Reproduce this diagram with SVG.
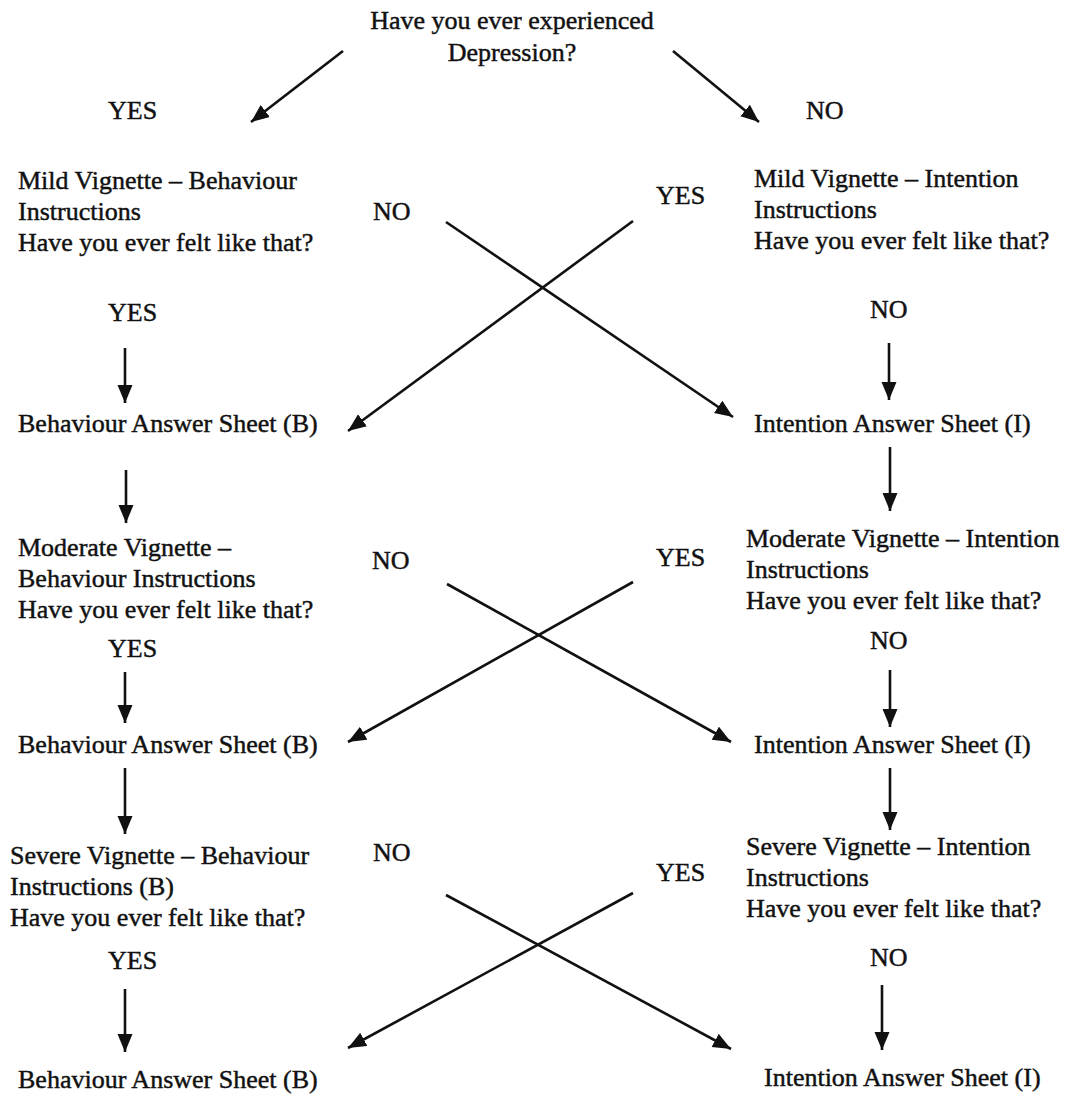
<svg xmlns="http://www.w3.org/2000/svg" width="1072" height="1095" viewBox="0 0 1072 1095">
<style>
text{font-family:"Liberation Serif","Times New Roman",serif;font-size:26px;fill:#111;stroke:#111;stroke-width:0.45}
.c{text-anchor:middle}
.ln{stroke:#111;stroke-width:2.6;fill:none;marker-end:url(#ah)}
</style>
<defs>
<marker id="ah" markerUnits="userSpaceOnUse" markerWidth="19" markerHeight="16" refX="18" refY="7.5" orient="auto"><path d="M0,0 L18,7.5 L0,15 z" fill="#111"/></marker>
</defs>
<rect width="1072" height="1095" fill="#fff"/>
<g id="q0"><text class="c" x="512" y="29">Have you ever experienced</text><text class="c" x="512" y="61">Depression?</text></g>
<g id="lbl-yes0"><text x="108" y="119">YES</text></g>
<g id="lbl-no0"><text x="806" y="119">NO</text></g>
<g id="mildB"><text x="18" y="189">Mild Vignette – Behaviour</text><text x="18" y="220">Instructions</text><text x="18" y="251">Have you ever felt like that?</text></g>
<g id="mildI"><text x="754" y="187">Mild Vignette – Intention</text><text x="754" y="218">Instructions</text><text x="754" y="249">Have you ever felt like that?</text></g>
<g id="lbl-no1"><text x="373" y="220">NO</text></g>
<g id="lbl-yes1"><text x="656" y="204">YES</text></g>
<g id="lbl-yes2"><text x="108" y="321">YES</text></g>
<g id="lbl-no2"><text x="870" y="318">NO</text></g>
<g id="sheetB1"><text x="18" y="432">Behaviour Answer Sheet (B)</text></g>
<g id="sheetI1"><text x="754" y="432">Intention Answer Sheet (I)</text></g>
<g id="modB"><text x="18" y="556">Moderate Vignette –</text><text x="18" y="587">Behaviour Instructions</text><text x="18" y="618">Have you ever felt like that?</text></g>
<g id="modI"><text x="746" y="547">Moderate Vignette – Intention</text><text x="746" y="578">Instructions</text><text x="746" y="609">Have you ever felt like that?</text></g>
<g id="lbl-no3"><text x="372" y="569">NO</text></g>
<g id="lbl-yes3"><text x="656" y="566">YES</text></g>
<g id="lbl-yes4"><text x="108" y="657">YES</text></g>
<g id="lbl-no4"><text x="870" y="649">NO</text></g>
<g id="sheetB2"><text x="18" y="753">Behaviour Answer Sheet (B)</text></g>
<g id="sheetI2"><text x="754" y="753">Intention Answer Sheet (I)</text></g>
<g id="sevB"><text x="10" y="864">Severe Vignette – Behaviour</text><text x="10" y="895">Instructions (B)</text><text x="10" y="926">Have you ever felt like that?</text></g>
<g id="sevI"><text x="746" y="855">Severe Vignette – Intention</text><text x="746" y="886">Instructions</text><text x="746" y="917">Have you ever felt like that?</text></g>
<g id="lbl-no5"><text x="373" y="861">NO</text></g>
<g id="lbl-yes5"><text x="656" y="881">YES</text></g>
<g id="lbl-yes6"><text x="108" y="969">YES</text></g>
<g id="lbl-no6"><text x="870" y="966">NO</text></g>
<g id="sheetB3"><text x="18" y="1088">Behaviour Answer Sheet (B)</text></g>
<g id="sheetI3"><text x="764" y="1086">Intention Answer Sheet (I)</text></g>
<g id="connectors">
<line class="ln" x1="343" y1="51" x2="251" y2="122"/>
<line class="ln" x1="673" y1="51" x2="759" y2="122"/>
<line class="ln" x1="446" y1="222" x2="733" y2="417"/>
<line class="ln" x1="633" y1="221" x2="348" y2="431"/>
<line class="ln" x1="125" y1="348" x2="125" y2="403"/>
<line class="ln" x1="889" y1="343" x2="889" y2="400"/>
<line class="ln" x1="126" y1="470" x2="126" y2="523"/>
<line class="ln" x1="890" y1="447" x2="890" y2="511"/>
<line class="ln" x1="447" y1="584" x2="731" y2="742"/>
<line class="ln" x1="633" y1="582" x2="348" y2="742"/>
<line class="ln" x1="125" y1="672" x2="125" y2="723"/>
<line class="ln" x1="890" y1="670" x2="890" y2="727"/>
<line class="ln" x1="125" y1="768" x2="125" y2="834"/>
<line class="ln" x1="890" y1="768" x2="890" y2="830"/>
<line class="ln" x1="446" y1="895" x2="731" y2="1049"/>
<line class="ln" x1="633" y1="893" x2="348" y2="1048"/>
<line class="ln" x1="125" y1="989" x2="125" y2="1052"/>
<line class="ln" x1="882" y1="985" x2="882" y2="1050"/>
</g>
</svg>
